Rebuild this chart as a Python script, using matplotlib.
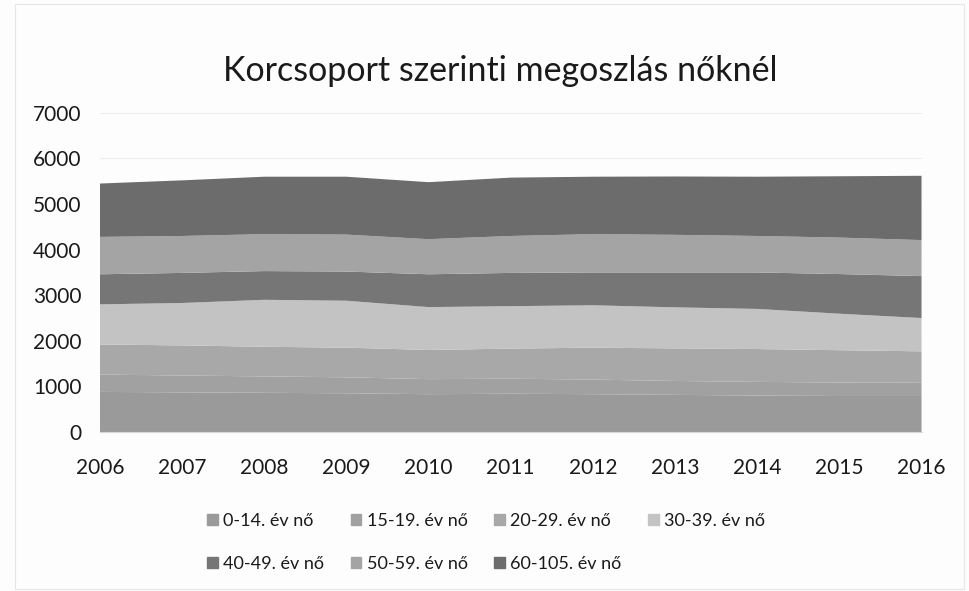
import matplotlib
matplotlib.use("Agg")
import matplotlib.pyplot as plt
import matplotlib.patches as mpatches

years = [2006, 2007, 2008, 2009, 2010, 2011, 2012, 2013, 2014, 2015, 2016]
series_names = ["0-14. év nő", "15-19. év nő", "20-29. év nő", "30-39. év nő",
                "40-49. év nő", "50-59. év nő", "60-105. év nő"]
v_0_14 = [880, 870, 860, 850, 830, 840, 830, 815, 800, 790, 790]
v_15_19 = [380, 370, 360, 350, 330, 330, 320, 305, 300, 295, 290]
v_20_29 = [660, 660, 650, 650, 640, 660, 700, 715, 720, 710, 690]
v_30_39 = [880, 930, 1030, 1030, 940, 930, 930, 900, 880, 800, 730]
v_40_49 = [660, 660, 630, 640, 720, 730, 720, 765, 800, 870, 920]
v_50_59 = [820, 810, 810, 810, 770, 810, 840, 825, 800, 800, 790]
v_60_105 = [1170, 1220, 1260, 1270, 1250, 1280, 1260, 1280, 1300, 1345, 1410]
series_values = [v_0_14, v_15_19, v_20_29, v_30_39, v_40_49, v_50_59, v_60_105]
colors = ["#9a9a9a", "#a1a1a1", "#a8a8a8", "#c3c3c3", "#767676", "#a4a4a4", "#6c6c6c"]
title = "Korcsoport szerinti megoszlás nőknél"
yticks = [0, 1000, 2000, 3000, 4000, 5000, 6000, 7000]

plt.rcParams['font.family'] = ['Lato', 'DejaVu Sans']

fig = plt.figure(figsize=(9.69, 5.91), dpi=100, facecolor="#fdfdfd")
ax = fig.add_axes([0.103, 0.269, 0.848, 0.540])
ax.set_facecolor("#fdfdfd")

ax.stackplot(years, *series_values, colors=colors, labels=series_names, linewidth=0)

ax.set_xlim(years[0], years[-1])
ax.set_ylim(0, 7000)
ax.set_yticks(yticks)
ax.set_xticks(years)
ax.set_xticklabels([str(y) for y in years])
ax.grid(axis='y', color="#ececec", linewidth=0.8)
ax.set_axisbelow(True)
for s in ["top", "right", "left"]:
    ax.spines[s].set_visible(False)
ax.spines["bottom"].set_color("#d8d8d8")
ax.tick_params(axis='both', length=0, labelsize=15, colors="#1a1a1a")
ax.tick_params(axis='y', pad=13)
ax.tick_params(axis='x', pad=19)

fig.text(0.516, 0.880, title, ha='center', va='center', fontsize=24.5, color="#1a1a1a")

handles = [mpatches.Patch(color=c) for c in colors]
order = [0, 4, 1, 5, 2, 6, 3]
leg = fig.legend([handles[i] for i in order], [series_names[i] for i in order],
                 ncol=4, loc='upper left', bbox_to_anchor=(0.197, 0.160),
                 frameon=False, fontsize=13, handlelength=0.6, handleheight=0.6,
                 handletextpad=0.3, columnspacing=1.45, labelspacing=1.5)
for t in leg.get_texts():
    t.set_color("#1a1a1a")

fig.patches.append(mpatches.Rectangle((0.015, 0.004), 0.98, 0.99, transform=fig.transFigure,
                                      fill=False, edgecolor="#e6e6e6", linewidth=0.8))

fig.savefig("out.png", dpi=100, facecolor=fig.get_facecolor())
